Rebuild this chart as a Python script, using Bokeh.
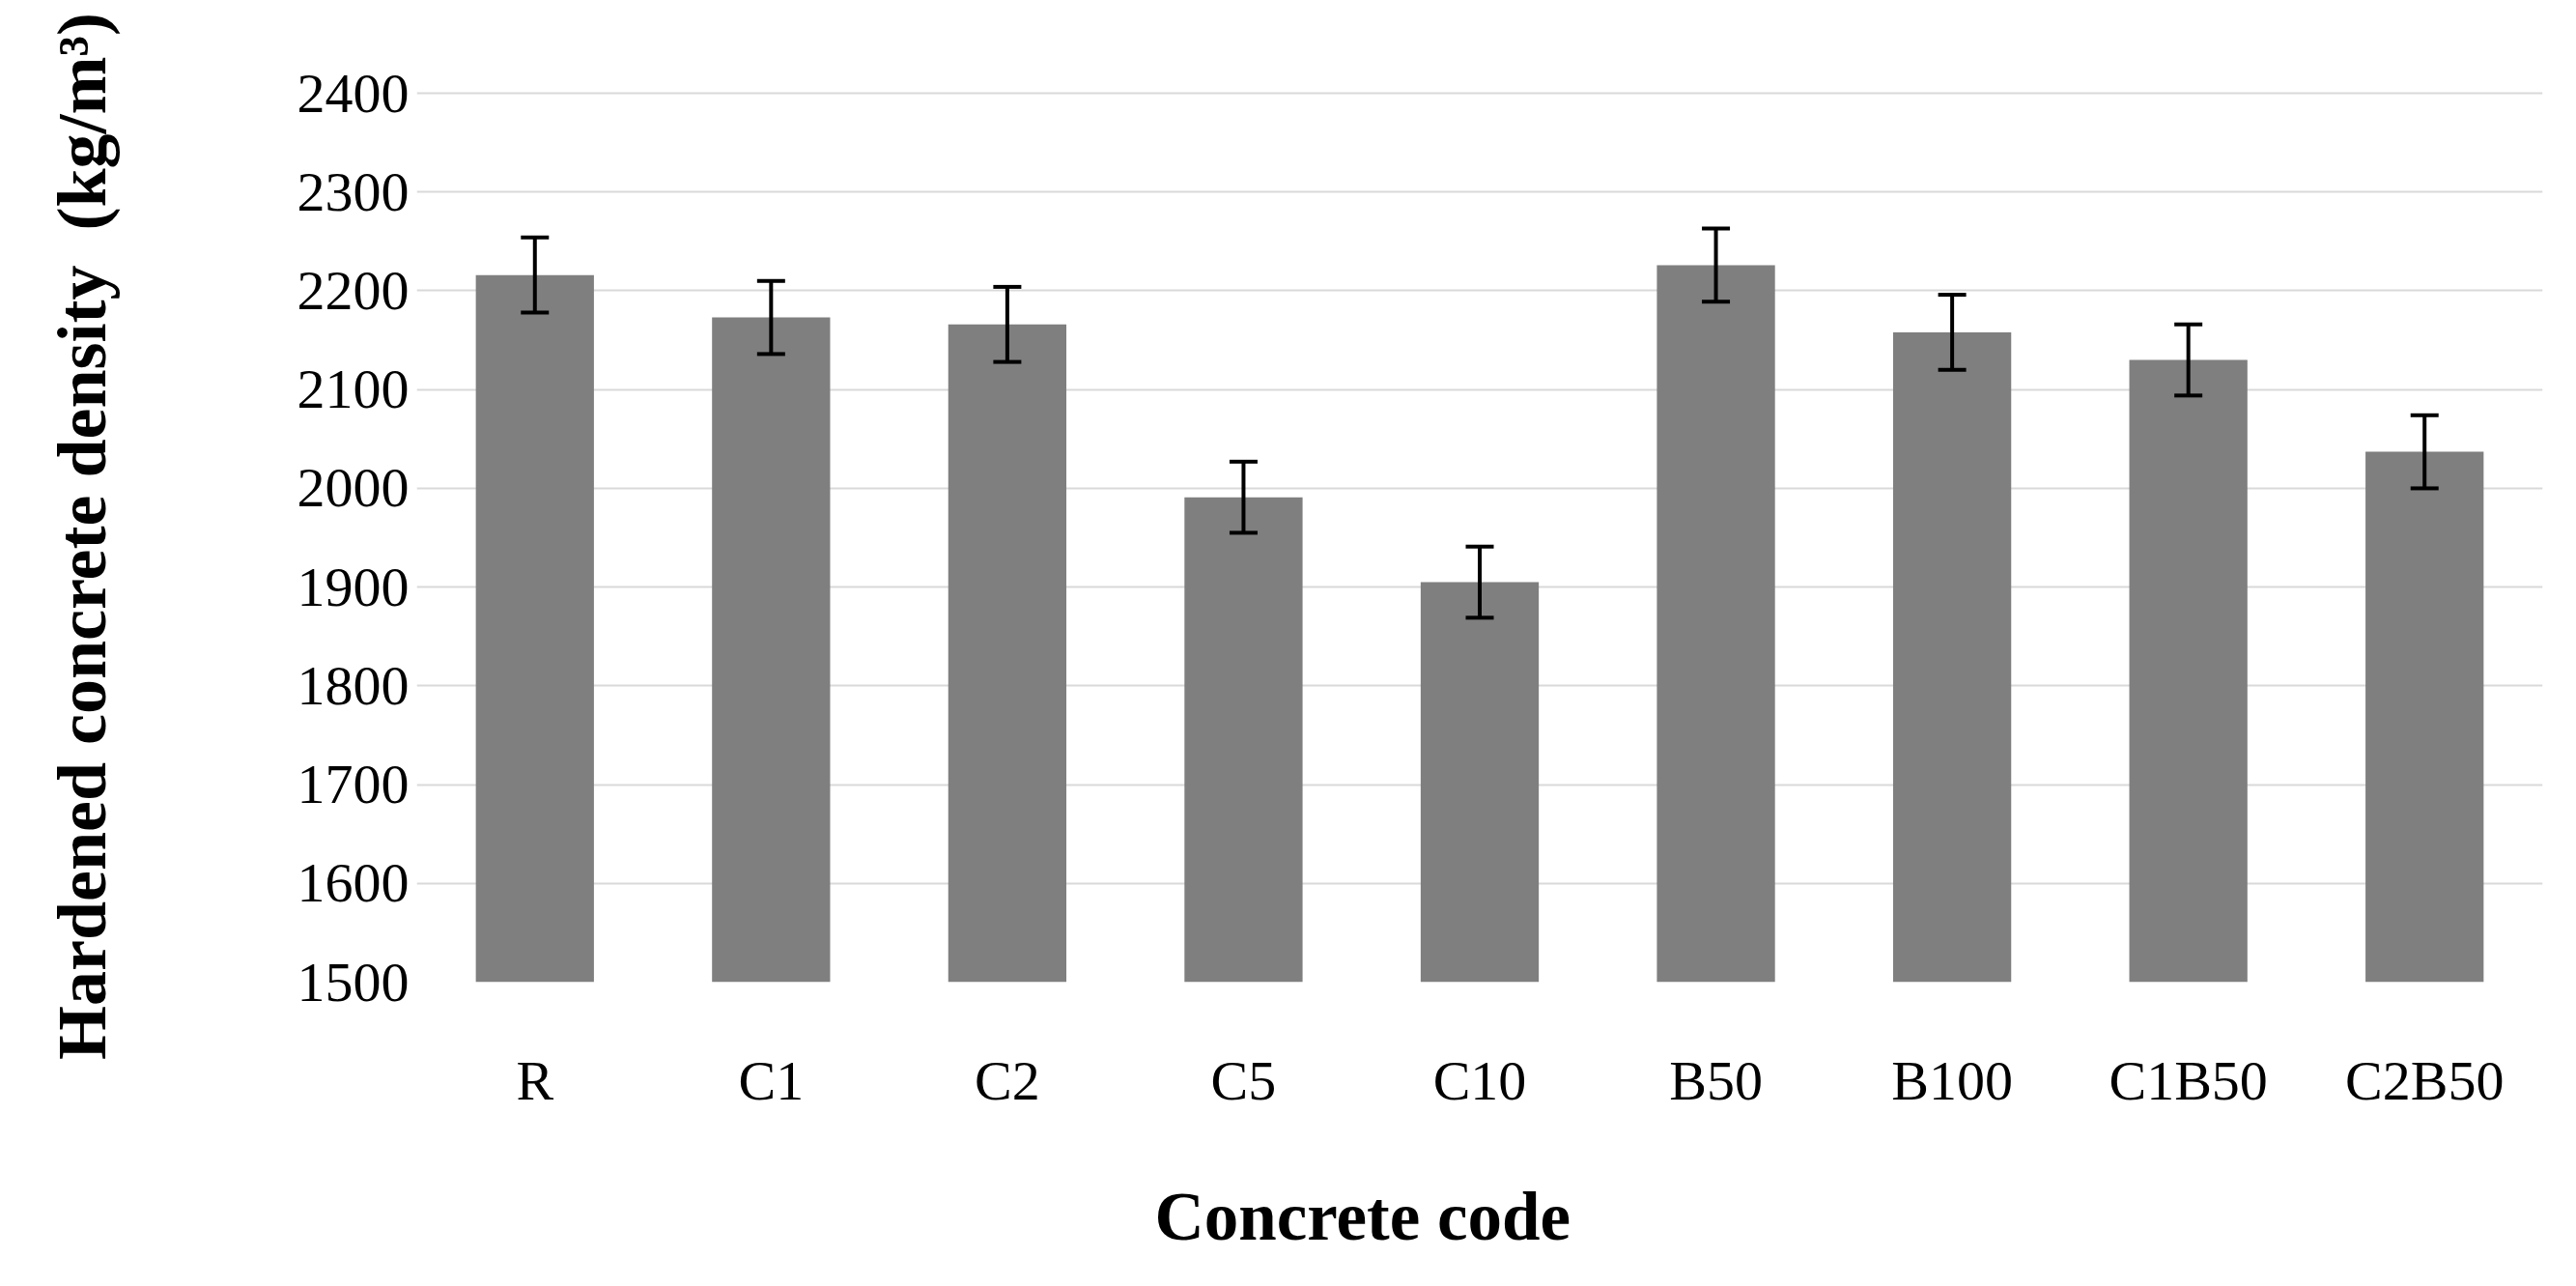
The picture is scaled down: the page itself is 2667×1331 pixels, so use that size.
from bokeh.plotting import figure
from bokeh.models import ColumnDataSource, Whisker, TeeHead, Title, FactorRange, Range1d, FixedTicker
from bokeh.embed import file_html
from bokeh.resources import INLINE

categories = ["R", "C1", "C2", "C5", "C10", "B50", "B100", "C1B50", "C2B50"]
density = [2216, 2173, 2166, 1991, 1905, 2226, 2158, 2130, 2037]
errors = [38, 37, 38, 36, 36, 37, 38, 36, 37]
y_ticks = [1500, 1600, 1700, 1800, 1900, 2000, 2100, 2200, 2300, 2400]
grid_ticks = [1600, 1700, 1800, 1900, 2000, 2100, 2200, 2300, 2400]

lower = [d - e for d, e in zip(density, errors)]
upper = [d + e for d, e in zip(density, errors)]
src = ColumnDataSource(dict(cat=categories, val=density, lower=lower, upper=upper))

FONT = "Liberation Serif"

p = figure(
    x_range=FactorRange(*categories, range_padding=0),
    y_range=Range1d(1500, 2403),
    width=2651, height=1315,
    output_backend="svg", toolbar_location=None,
    min_border_left=431, min_border_right=19,
    min_border_top=93, min_border_bottom=299,
)
p.outline_line_color = None
p.background_fill_color = "white"
p.border_fill_color = "white"

p.vbar(x="cat", top="val", bottom=1500, width=0.5, source=src,
       fill_color="#7f7f7f", line_color=None)

w = Whisker(base="cat", lower="lower", upper="upper", source=src,
            line_color="black", line_width=4, level="overlay",
            upper_head=TeeHead(size=29, line_color="black", line_width=4),
            lower_head=TeeHead(size=29, line_color="black", line_width=4))
p.add_layout(w)

p.xgrid.grid_line_color = None
p.ygrid.grid_line_color = "#d9d9d9"
p.ygrid.grid_line_width = 2
p.ygrid.ticker = FixedTicker(ticks=grid_ticks)
p.yaxis.ticker = FixedTicker(ticks=y_ticks)

for ax in (p.xaxis[0], p.yaxis[0]):
    ax.axis_line_color = None
    ax.major_tick_line_color = None
    ax.minor_tick_line_color = None
    ax.major_tick_out = 0
    ax.major_tick_in = 0
    ax.major_label_text_font = FONT
    ax.major_label_text_font_size = "58px"
    ax.major_label_text_color = "black"

p.yaxis.major_label_standoff = 8
p.xaxis.major_label_standoff = 69
# spacer label to push the title down
p.xaxis.axis_label = "\u00a0"
p.xaxis.axis_label_text_font_size = "10px"
p.xaxis.axis_label_standoff = 43

p.yaxis.axis_label = "Hardened concrete density\u00a0\u00a0(kg/m³)"
p.yaxis.axis_label_text_font = FONT
p.yaxis.axis_label_text_font_style = "bold"
p.yaxis.axis_label_text_font_size = "72px"
p.yaxis.axis_label_text_color = "black"
p.yaxis.axis_label_standoff = 180

t = Title(text="Concrete code", align="left", offset=764,
          text_font=FONT, text_font_style="bold", text_font_size="71px",
          text_color="black", standoff=14)
p.add_layout(t, "below")

open("out.html", "w").write(file_html(p, INLINE))
